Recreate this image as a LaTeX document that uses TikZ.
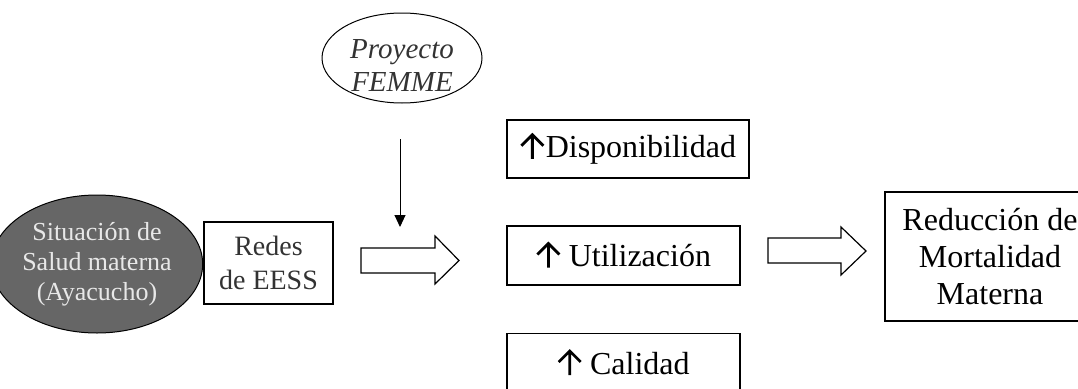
\documentclass[tikz,border=0pt]{standalone}
\usepackage{fontspec}
\setmainfont{Liberation Serif}
\usetikzlibrary{shapes.geometric,arrows.meta}
\definecolor{ellgray}{HTML}{666666}
\definecolor{elltext}{HTML}{E8E8E8}
\definecolor{txtgray}{HTML}{333333}
\newcommand\myuparr{\tikz[baseline=0pt]\draw[line width=2.8pt,line cap=butt,line join=miter] (0,-1pt)--(0,23pt) (-11pt,12pt)--(0,23pt)--(11pt,12pt);}
\tikzset{
  box/.style={draw=black,line width=1.3pt,rectangle,inner sep=0pt,align=center,
    font=\fontsize{32}{37}\selectfont},
  situ/.style={draw=black,line width=1pt,ellipse,fill=ellgray,text=elltext,inner sep=0pt,
    align=center,font=\fontsize{26}{30}\selectfont},
  proj/.style={draw=black,line width=1pt,ellipse,inner sep=0pt},
  projtext/.style={align=center,text=txtgray,inner sep=0pt,font=\fontsize{29}{33}\selectfont\itshape},
  bigarrow/.style={draw=black,line width=1.2pt,fill=white,line join=miter},
  thinarrow/.style={draw=black,line width=1pt,-{Triangle[width=11pt,length=12pt]}}
}
\begin{document}
\begin{tikzpicture}[x=1pt,y=-1pt]
\useasboundingbox (0,0) rectangle (1078,388);
\clip (0,0) rectangle (1078,388);
% left ellipse
\node[situ,minimum width=175,minimum height=138] (sit) at (97,264) {Situación de\\Salud materna\\(Ayacucho)};
% Redes box
\node[box,minimum width=129,minimum height=82,text=txtgray,font=\fontsize{28}{34}\selectfont] (redes) at (268.5,263) {Redes\\de EESS};
% big arrow 1
\coordinate (a1) at (361,248);
\draw[bigarrow] (a1) -- ++(74,0) -- ++(0,-12) -- ++(24,24.5) -- ++(-24,23.5) -- ++(0,-11) -- ++(-74,0) -- cycle;
% Proyecto FEMME
\node[proj,minimum width=160,minimum height=90] (femme) at (402,58) {};
\node[projtext] (femmetxt) at (402,66) {Proyecto\\FEMME};
\coordinate (fstart) at (400,139);
\coordinate (fend) at (400,227);
\draw[thinarrow] (fstart) -- (fend);
% middle boxes
\node[box,minimum width=242,minimum height=58] (disp) at (628,149) {\myuparr\hspace{1pt}Disponibilidad};
\node[box,minimum width=233,minimum height=59] (util) at (623.5,255.5) {\myuparr\ Utilización};
\node[box,minimum width=233,minimum height=59] (cal) at (623.5,363) {\myuparr\ Calidad};
% big arrow 2
\coordinate (a2) at (768,238);
\draw[bigarrow] (a2) -- ++(73,0) -- ++(0,-11) -- ++(25,24) -- ++(-25,24) -- ++(0,-12) -- ++(-73,0) -- cycle;
% result box
\node[box,minimum width=210,minimum height=129] (red) at (990,256.5) {Reducción de\\Mortalidad\\Materna};
\end{tikzpicture}
\end{document}
